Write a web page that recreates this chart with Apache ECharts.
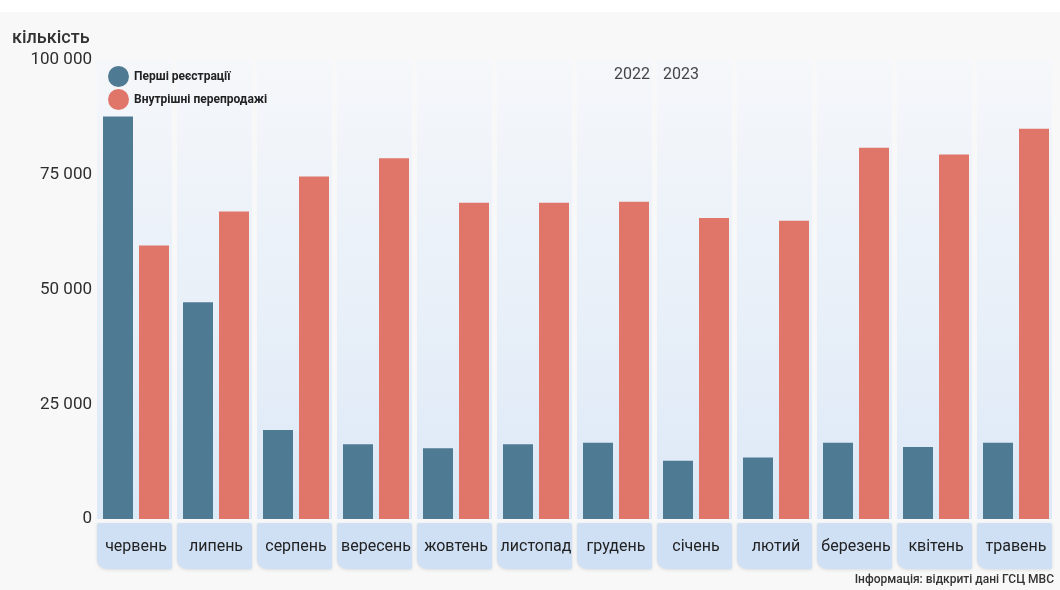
<!DOCTYPE html>
<html>
<head>
<meta charset="utf-8">
<script src="https://cdn.jsdelivr.net/npm/echarts@6/dist/echarts.min.js"></script>
<style>
  html, body { margin: 0; padding: 0; background: #ffffff; }
  #chart { width: 1060px; height: 590px; }
</style>
</head>
<body>
<div id="chart"></div>
<script>
// Months from June 2022 to May 2023
const months = ['червень', 'липень', 'серпень', 'вересень', 'жовтень', 'листопад',
                'грудень', 'січень', 'лютий', 'березень', 'квітень', 'травень'];
// First registrations of used cars
const firstRegistrations = [87700, 47200, 19400, 16300, 15400, 16300,
                            16600, 12700, 13400, 16600, 15700, 16600];
// Internal resales
const internalResales = [59600, 67000, 74600, 78600, 68900, 68900,
                         69100, 65600, 65000, 80900, 79400, 85000];
// Value axis ticks
const yTicks = [0, 25000, 50000, 75000, 100000];
const yMax = 100000;

const seriesNames = ['Перші реєстрації', 'Внутрішні перепродажі'];

const chart = echarts.init(document.getElementById('chart'));

function formatThousands(v) {
  return String(v).replace(/\B(?=(\d{3})+(?!\d))/g, ' ');
}

// Light column behind each month plus the rounded tab holding its name
function renderColumn(params, api) {
  const idx = api.value(0);
  const base = api.coord([idx, 0]);
  const top = api.coord([idx, yMax]);
  const band = api.size([1, 0])[0];
  const w = band - 5;
  const x = base[0] - band / 2 + 1;
  return {
    type: 'group',
    children: [
      {
        type: 'rect',
        shape: { x: x, y: top[1], width: w, height: base[1] - top[1] },
        style: {
          fill: new echarts.graphic.LinearGradient(0, 0, 0, 1, [
            { offset: 0, color: '#f5f7fa' },
            { offset: 1, color: '#dde9f7' }
          ])
        }
      },
      {
        type: 'rect',
        shape: { x: x, y: base[1] + 4, width: w, height: 46, r: [2, 2, 2, 10] },
        style: {
          fill: '#cfe0f5',
          shadowBlur: 3,
          shadowOffsetY: 1,
          shadowColor: 'rgba(0,0,0,0.12)'
        }
      }
    ]
  };
}

const option = {
  backgroundColor: '#f8f8f8',
  animation: false,
  textStyle: { fontFamily: 'Roboto' },
  grid: { left: 96, right: 4, top: 60, bottom: 71 },
  legend: {
    data: seriesNames,
    orient: 'vertical',
    left: 103,
    top: 61,
    icon: 'circle',
    itemWidth: 21,
    itemHeight: 21,
    itemGap: 2,
    textStyle: { fontFamily: 'Roboto', fontSize: 12, fontWeight: 'bold', color: '#222' }
  },
  xAxis: {
    type: 'category',
    data: months,
    axisLine: { show: false },
    axisTick: { show: false },
    axisLabel: { interval: 0, margin: 20, fontSize: 16, color: '#222', fontFamily: 'Roboto' }
  },
  yAxis: {
    type: 'value',
    min: yTicks[0],
    max: yTicks[yTicks.length - 1],
    interval: yTicks[1] - yTicks[0],
    splitLine: { show: false },
    axisLine: { show: false },
    axisTick: { show: false },
    axisLabel: {
      margin: 4,
      fontSize: 17,
      color: '#2e2e2e',
      fontFamily: 'Roboto',
      formatter: formatThousands
    }
  },
  graphic: [
    { type: 'rect', left: 0, top: 0, z: 0, shape: { width: 1060, height: 12 }, style: { fill: '#ffffff' }, silent: true },
    { type: 'text', left: 12, top: 29, z: 20, style: { text: 'кількість', font: '500 18px Roboto', fill: '#333' } },
    { type: 'text', left: 614, top: 67, z: 20, style: { text: '2022', font: '16px Roboto', fill: '#444' } },
    { type: 'text', left: 663, top: 67, z: 20, style: { text: '2023', font: '16px Roboto', fill: '#444' } },
    { type: 'text', right: 6, top: 574, z: 20, style: { text: 'Інформація: відкриті дані ГСЦ МВС', font: '500 12px Roboto', fill: '#333' } }
  ],
  series: [
    {
      type: 'custom',
      silent: true,
      clip: false,
      z: 0,
      renderItem: renderColumn,
      encode: { x: 0, y: 1 },
      data: months.map((m, i) => [i, 0])
    },
    {
      name: seriesNames[0],
      type: 'bar',
      z: 2,
      barWidth: 30,
      barGap: '20%',
      itemStyle: { color: '#4f7a93' },
      data: firstRegistrations
    },
    {
      name: seriesNames[1],
      type: 'bar',
      z: 2,
      barWidth: 30,
      itemStyle: { color: '#e0766a' },
      data: internalResales
    }
  ],
  color: ['#4a7191', '#e05c4c']
};

chart.setOption(option);
</script>
</body>
</html>
